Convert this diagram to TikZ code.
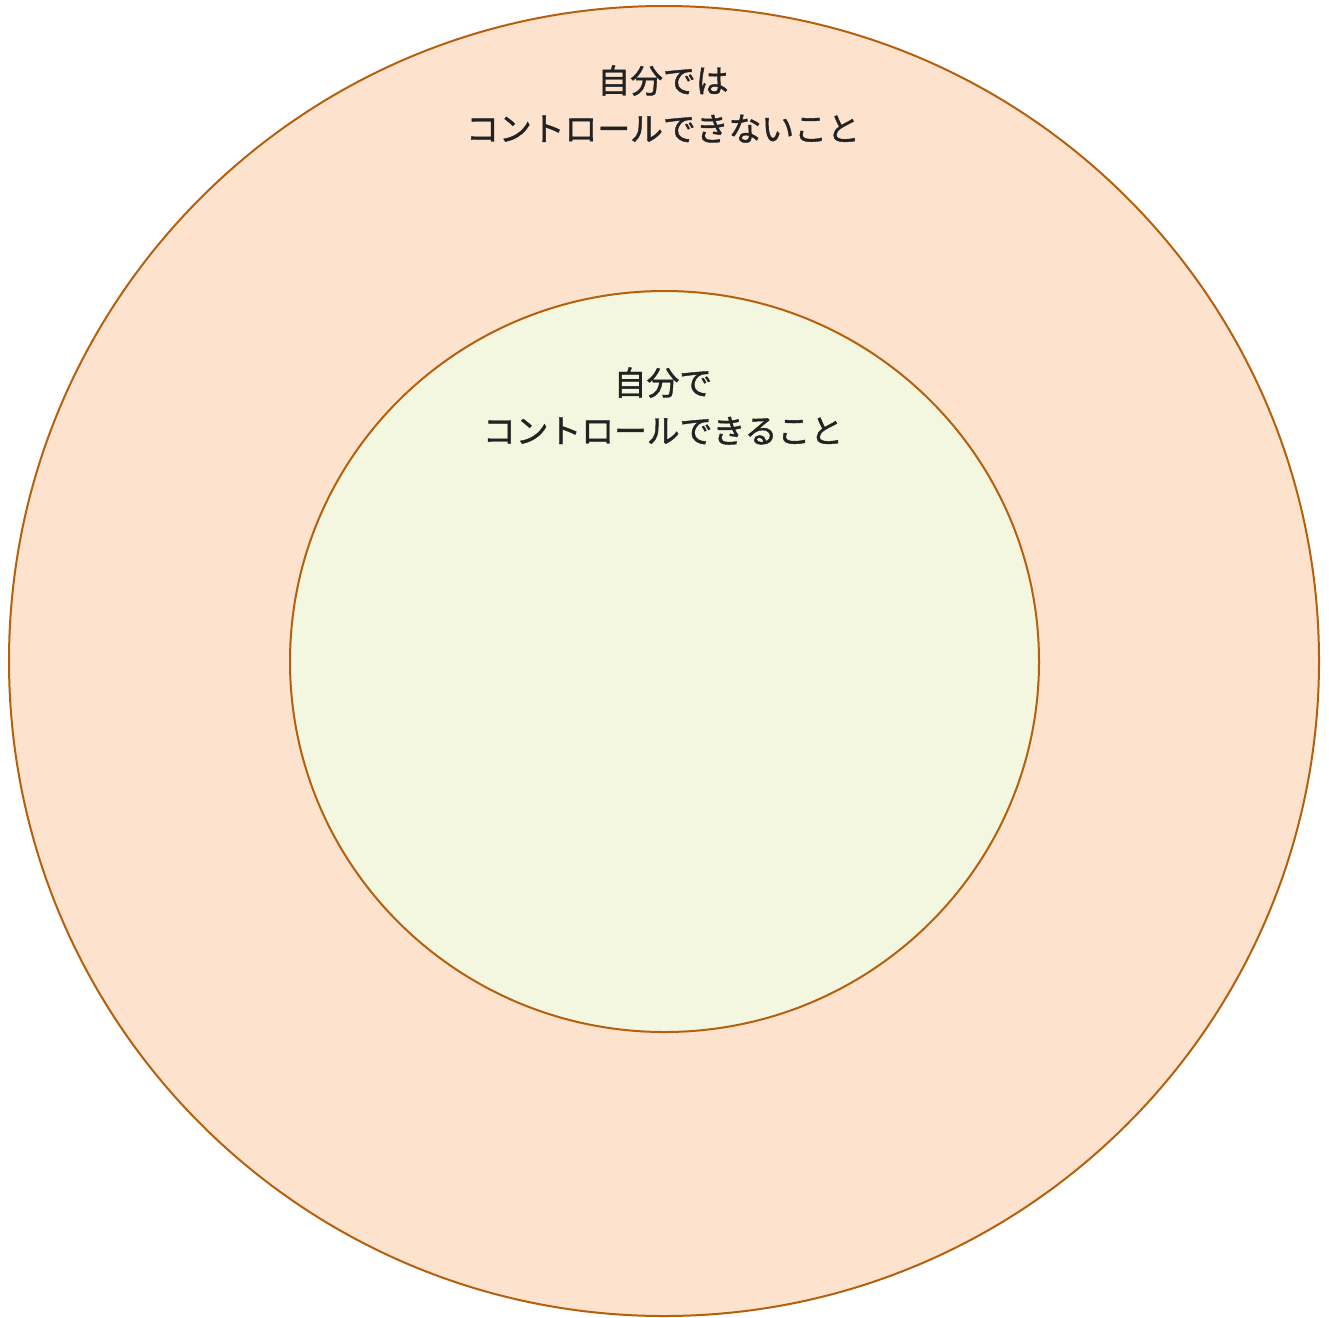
\documentclass[tikz,border=0pt]{standalone}
\usepackage{fontspec}
\newfontfamily\cjk[FakeBold=1.2]{Noto Sans CJK JP}
\definecolor{outerfill}{HTML}{FDE3CD}
\definecolor{innerfill}{HTML}{F3F7E0}
\definecolor{ringline}{HTML}{B5600E}
\definecolor{txt}{HTML}{222222}
\begin{document}
\begin{tikzpicture}[x=1pt,y=-1pt,
  ring/.style={draw=ringline,line width=2pt},
  lbl/.style={text=txt,font=\cjk\fontsize{32.8}{48}\selectfont,align=center,inner sep=0pt}]
\useasboundingbox (0,0) rectangle (1329,1317);
\fill[white] (0,0) rectangle (1329,1317);
\draw[ring,fill=outerfill] (664,661) ellipse [x radius=655,y radius=655];
\draw[ring,fill=innerfill] (664.5,661.5) ellipse [x radius=374.5,y radius=370.5];
\node[lbl] (outerlbl) at (663,104) {自分では\\コントロールできないこと};
\node[lbl] (innerlbl) at (663,406) {自分で\\コントロールできること};
\end{tikzpicture}
\end{document}
